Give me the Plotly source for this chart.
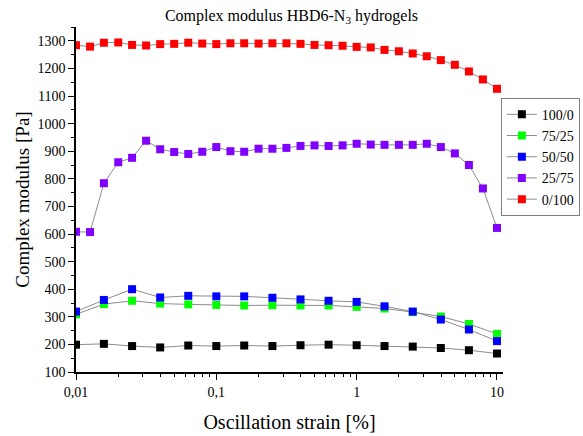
import plotly.graph_objects as go

# Strain sweeps: dense series sampled every 0.1 decade, sparse series every 0.2 decade
strain_dense = [0.01, 0.0126, 0.0158, 0.02, 0.0251, 0.0316, 0.0398, 0.0501, 0.0631, 0.0794,
                0.1, 0.126, 0.158, 0.2, 0.251, 0.316, 0.398, 0.501, 0.631, 0.794,
                1.0, 1.26, 1.58, 2.0, 2.51, 3.16, 3.98, 5.01, 6.31, 7.94, 10.0]
strain_sparse = [0.01, 0.0158, 0.0251, 0.0398, 0.0631, 0.1, 0.158, 0.251, 0.398, 0.631,
                 1.0, 1.58, 2.51, 3.98, 6.31, 10.0]

g_100_0 = [199, 202, 194, 189, 196, 194, 196, 194, 197, 199, 197, 194, 192, 187, 179, 167]
g_75_25 = [309, 346, 358, 348, 345, 343, 341, 342, 341, 341, 336, 330, 317, 301, 274, 238]
g_50_50 = [319, 361, 400, 370, 376, 374, 374, 369, 363, 358, 354, 338, 319, 290, 254, 212]
g_25_75 = [608, 607, 784, 860, 876, 938, 907, 897, 890, 898, 915, 900, 898, 909, 909, 912,
           919, 921, 919, 921, 927, 924, 923, 923, 923, 927, 915, 892, 850, 765, 622]
g_0_100 = [1284, 1279, 1293, 1294, 1285, 1283, 1288, 1289, 1293, 1290, 1288, 1291, 1291,
           1290, 1291, 1291, 1289, 1285, 1284, 1282, 1278, 1276, 1267, 1262, 1254, 1244,
           1230, 1213, 1189, 1160, 1126]

series = [
    ("100/0", strain_sparse, g_100_0, "#000000"),
    ("75/25", strain_sparse, g_75_25, "#00ff00"),
    ("50/50", strain_sparse, g_50_50, "#0000ff"),
    ("25/75", strain_dense, g_25_75, "#8000ff"),
    ("0/100", strain_dense, g_0_100, "#ff0000"),
]

x_major = [0.01, 0.1, 1, 10]
x_major_text = ["0,01", "0,1", "1", "10"]
x_minor = [m * d for d in (0.01, 0.1, 1) for m in range(2, 10)]
y_major = list(range(100, 1301, 100))

FONT = "Liberation Serif"

fig = go.Figure()
for name, xs, ys, col in series:
    fig.add_trace(go.Scatter(
        x=xs, y=ys, name=name, mode="lines+markers",
        line=dict(color="#8c8c8c", width=1),
        marker=dict(symbol="square", size=8, color=col, line=dict(width=0)),
    ))

fig.update_layout(
    width=583, height=436,
    paper_bgcolor="white", plot_bgcolor="white",
    margin=dict(l=76, r=80, t=27, b=64, autoexpand=False),
    font=dict(family=FONT, size=14, color="#000000"),
    title=dict(text="Complex modulus HBD6-N<sub>3</sub> hydrogels",
               x=0.5, xanchor="center", xref="container",
               y=1 - 15 / 436, yanchor="middle", yref="container",
               font=dict(family=FONT, size=16, color="#000000")),
    showlegend=True,
    legend=dict(x=0.995, y=0.795, xanchor="left", yanchor="top",
                bordercolor="#808080", borderwidth=1, bgcolor="white",
                font=dict(family=FONT, size=14), tracegroupgap=0),
)

fig.update_xaxes(
    type="log", range=[-2, 1.043],
    showgrid=False, zeroline=False,
    showline=True, linecolor="#000000", linewidth=1.5,
    ticks="outside", ticklen=6, tickwidth=1, tickcolor="#000000",
    tickmode="array", tickvals=x_major, ticktext=x_major_text,
    tickfont=dict(family=FONT, size=14),
    minor=dict(tickmode="array", tickvals=x_minor, ticks="outside",
               ticklen=3.5, tickwidth=1, tickcolor="#000000", showgrid=False),
    title=dict(text="Oscillation strain [%]", standoff=16,
               font=dict(family=FONT, size=20)),
)
fig.update_yaxes(
    range=[100, 1350],
    showgrid=False, zeroline=False,
    showline=True, linecolor="#000000", linewidth=1.5,
    ticks="outside", ticklen=6, tickwidth=1, tickcolor="#000000",
    tickmode="array", tickvals=y_major,
    tickfont=dict(family=FONT, size=14),
    minor=dict(dtick=50, ticks="outside", ticklen=3.5, tickwidth=1,
               tickcolor="#000000", showgrid=False),
    title=dict(text="Complex modulus [Pa]", standoff=3,
               font=dict(family=FONT, size=19)),
)

fig.write_html("out.html")
